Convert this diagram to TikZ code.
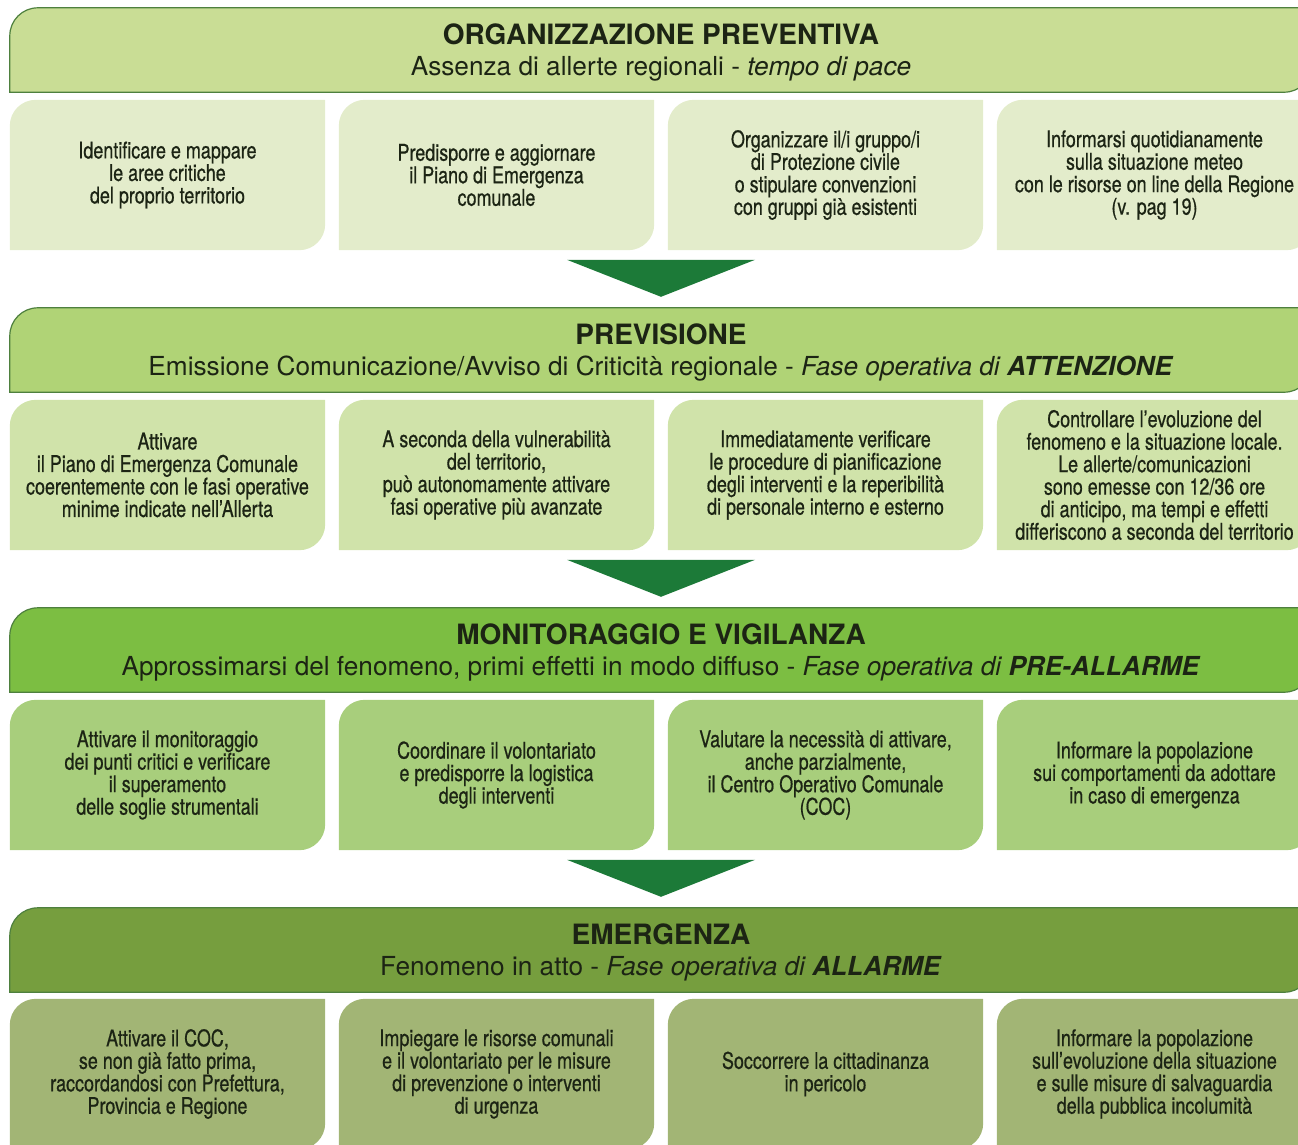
\documentclass[tikz,border=0pt]{standalone}
\usepackage{fontspec}
\setmainfont{TeX Gyre Heros}
\newfontfamily\strettofont[FakeStretch=0.78,FakeBold=0.6]{TeX Gyre Heros}
\usetikzlibrary{positioning,backgrounds}
\definecolor{testo}{RGB}{28,36,20}
\definecolor{bordo}{RGB}{78,128,62}
\definecolor{freccia}{RGB}{28,122,56}
\definecolor{fasea}{RGB}{201,221,149}
\definecolor{faseb}{RGB}{176,211,118}
\definecolor{fasec}{RGB}{124,190,66}
\definecolor{fased}{RGB}{118,158,62}
\definecolor{azionea}{RGB}{227,236,203}
\definecolor{azioneb}{RGB}{208,227,170}
\definecolor{azionec}{RGB}{168,206,124}
\definecolor{azioned}{RGB}{162,181,117}
\tikzset{
  fase/.style={minimum width=1302pt,minimum height=84pt,inner sep=0pt},
  azione/.style={minimum width=315pt,minimum height=150pt,inner sep=0pt,align=center,
    text=testo,font=\strettofont\fontsize{23}{22.5}\selectfont},
  titolo/.style={anchor=base,text=testo,font=\bfseries\fontsize{28}{30}\selectfont},
  sottotitolo/.style={anchor=base,text=testo,font=\fontsize{26.2}{30}\selectfont},
}
\begin{document}
\begin{tikzpicture}[x=1pt,y=1pt]
  \useasboundingbox (0,0) rectangle (1298,-1144);
  % fasi
  \foreach \n [count=\i from 0] in {org,prev,mon,emer}
    \node[fase] (\n) at (661,-50-300*\i) {};
  \node[titolo] (orgT) at ([yshift=-37pt]org.north) {ORGANIZZAZIONE PREVENTIVA};
  \node[sottotitolo] (orgS) at ([yshift=-68pt]org.north) {Assenza di allerte regionali - \textit{tempo di pace}};
  \node[titolo] (prevT) at ([yshift=-37pt]prev.north) {PREVISIONE};
  \node[sottotitolo] (prevS) at ([yshift=-68pt]prev.north) {Emissione Comunicazione/Avviso di Criticità regionale - \textit{Fase operativa di \textbf{ATTENZIONE}}};
  \node[titolo] (monT) at ([yshift=-37pt]mon.north) {MONITORAGGIO E VIGILANZA};
  \node[sottotitolo] (monS) at ([yshift=-68pt]mon.north) {Approssimarsi del fenomeno, primi effetti in modo diffuso - \textit{Fase operativa di \textbf{PRE-ALLARME}}};
  \node[titolo] (emerT) at ([yshift=-37pt]emer.north) {EMERGENZA};
  \node[sottotitolo] (emerS) at ([yshift=-68pt]emer.north) {Fenomeno in atto - \textit{Fase operativa di \textbf{ALLARME}}};
  % azioni
  \node[azione] (org1) at (167.5,-175) {Identificare e mappare\\le aree critiche\\del proprio territorio};
  \node[azione] (org2) at (496.5,-175) {Predisporre e aggiornare\\il Piano di Emergenza\\comunale};
  \node[azione] (org3) at (825.5,-175) {Organizzare il/i gruppo/i\\di Protezione civile\\o stipulare convenzioni\\con gruppi già esistenti};
  \node[azione] (org4) at (1154.5,-175) {Informarsi quotidianamente\\sulla situazione meteo\\con le risorse on line della Regione\\(v. pag 19)};
  \node[azione] (prev1) at (167.5,-475) {Attivare\\il Piano di Emergenza Comunale\\coerentemente con le fasi operative\\minime indicate nell’Allerta};
  \node[azione] (prev2) at (496.5,-475) {A seconda della vulnerabilità\\del territorio,\\può autonomamente attivare\\fasi operative più avanzate};
  \node[azione] (prev3) at (825.5,-475) {Immediatamente verificare\\le procedure di pianificazione\\degli interventi e la reperibilità\\di personale interno e esterno};
  \node[azione] (prev4) at (1154.5,-475) {Controllare l’evoluzione del\\fenomeno e la situazione locale.\\Le allerte/comunicazioni\\sono emesse con 12/36 ore\\di anticipo, ma tempi e effetti\\differiscono a seconda del territorio};
  \node[azione] (mon1) at (167.5,-775) {Attivare il monitoraggio\\dei punti critici e verificare\\il superamento\\delle soglie strumentali};
  \node[azione] (mon2) at (496.5,-775) {Coordinare il volontariato\\e predisporre la logistica\\degli interventi};
  \node[azione] (mon3) at (825.5,-775) {Valutare la necessità di attivare,\\anche parzialmente,\\il Centro Operativo Comunale\\(COC)};
  \node[azione] (mon4) at (1154.5,-775) {Informare la popolazione\\sui comportamenti da adottare\\in caso di emergenza};
  \node[azione] (emer1) at (167.5,-1074) {Attivare il COC,\\se non già fatto prima,\\raccordandosi con Prefettura,\\Provincia e Regione};
  \node[azione] (emer2) at (496.5,-1074) {Impiegare le risorse comunali\\e il volontariato per le misure\\di prevenzione o interventi\\di urgenza};
  \node[azione] (emer3) at (825.5,-1074) {Soccorrere la cittadinanza\\in pericolo};
  \node[azione] (emer4) at (1154.5,-1074) {Informare la popolazione\\sull’evoluzione della situazione\\e sulle misure di salvaguardia\\della pubblica incolumità};
  \begin{scope}[on background layer]
    \foreach \n/\c in {org/fasea,prev/faseb,mon/fasec,emer/fased}
      \filldraw[fill=\c,draw=bordo,line width=1.2pt] (\n.south west) -- ([yshift=-28pt]\n.north west)
        arc[start angle=180,end angle=90,radius=28pt] -- (\n.north east) -- ([yshift=28pt]\n.south east)
        arc[start angle=0,end angle=-90,radius=28pt] -- cycle;
    \foreach \n/\c in {org/azionea,prev/azioneb,mon/azionec,emer/azioned}
      \foreach \k in {1,...,4}
        \fill[\c] (\n\k.south west) -- ([yshift=-26pt]\n\k.north west)
          arc[start angle=180,end angle=90,radius=26pt] -- (\n\k.north east) -- ([yshift=26pt]\n\k.south east)
          arc[start angle=0,end angle=-90,radius=26pt] -- cycle;
  \end{scope}
  % frecce
  \foreach \b in {prev,mon,emer}
    \fill[freccia] ([xshift=-94pt,yshift=48pt]\b.north) -- ([xshift=94pt,yshift=48pt]\b.north) -- ([yshift=11pt]\b.north) -- cycle;
\end{tikzpicture}
\end{document}
